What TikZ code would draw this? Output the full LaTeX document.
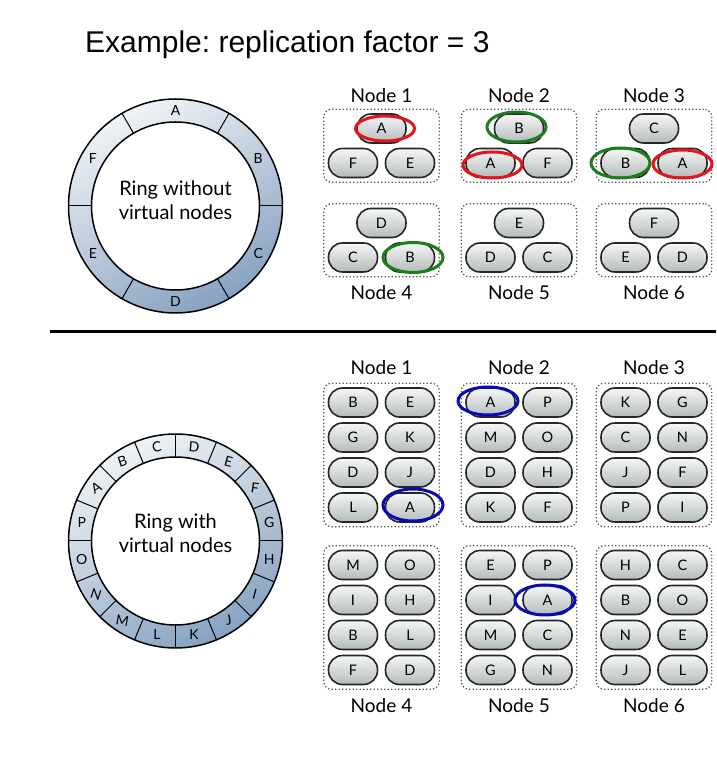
\documentclass[tikz,border=0pt]{standalone}
\usepackage{fontspec}
\setmainfont{Lato}
\newfontfamily\titlefont{Liberation Sans}
\usetikzlibrary{positioning,fit,calc}

\definecolor{ringlight}{HTML}{F0F3F6}
\definecolor{ringdark}{HTML}{86A2C0}
\definecolor{pilltop}{HTML}{F6F7F7}
\definecolor{pillbot}{HTML}{B4BBBB}
\definecolor{boxgray}{HTML}{555555}
\definecolor{hired}{HTML}{E5131B}
\definecolor{higreen}{HTML}{1B7D1B}
\definecolor{hiblue}{HTML}{0A0AB4}

\tikzset{
  pill/.style={draw=black!85, line width=1.6pt, rounded corners=14pt,
    minimum width=49pt, minimum height=29pt, inner sep=0pt,
    top color=pilltop, bottom color=pillbot,
    font=\fontsize{14.5}{14.5}\selectfont},
  group/.style={draw=boxgray, dash pattern=on 1.3pt off 2.2pt, line width=1.3pt,
    rounded corners=8pt, inner sep=4pt},
  caption/.style={font=\fontsize{19}{19}\selectfont},
  ringtext/.style={align=center, font=\fontsize{20}{24}\selectfont},
  ringlabel/.style={font=\fontsize{14}{14}\selectfont, inner sep=0pt},
  hilite/.style={line width=3pt}
}

\begin{document}
\begin{tikzpicture}[x=1pt, y=1pt]
    \useasboundingbox (0,0) rectangle (716,758);

    % Title.
    \node[anchor=base west, inner sep=0pt, font=\titlefont\fontsize{30}{36}\selectfont]
        (title) at (85,705) {\frenchspacing Example: replication factor = 3};

    % Ring without virtual nodes.
    \coordinate (ring1) at (175.5,552);
    \shade[shading=axis, top color=ringlight, bottom color=ringdark, shading angle=28]
        (ring1) circle (107);
    \draw[line width=1.5pt, fill=white] (ring1) circle (84);
    \draw[line width=1.5pt] (ring1) circle (107);
    \foreach \a in {0,60,...,300}
        \draw[line width=1pt] ($(ring1)+(\a:84)$) -- ($(ring1)+(\a:107)$);
    \foreach \a/\t in {90/A,30/B,-30/C,-90/D,210/E,150/F}
        \node[ringlabel] (ra\t) at ($(ring1)+(\a:95.5)$) {\t};
    \node[ringtext] (ringa) at (175.5,558) {Ring without\\virtual nodes};

    % Nodes without virtual nodes.
    \foreach \g/\cx/\cy/\t/\l/\r in {1/381.5/629.5/A/F/E, 2/519/629.5/B/A/F,
            3/654/629.5/C/B/A, 4/381.5/535/D/C/B, 5/519/535/E/D/C, 6/654/535/F/E/D} {
        \node[pill] (p\g t) at (\cx,\cy) {\t};
        \node[pill] (p\g l) at (\cx-28.5,\cy-34.5) {\l};
        \node[pill] (p\g r) at (\cx+28.5,\cy-34.5) {\r};
        \node[group, fit=(p\g t)(p\g l)(p\g r)] (pg\g) {};
    }
    \foreach \g in {1,2,3}
        \node[caption, above=2pt of pg\g] (pc\g) {Node \g};
    \foreach \g in {4,5,6}
        \node[caption, below=5pt of pg\g] (pc\g) {Node \g};

    % Replicas of A and B.
    \draw[hilite, hired] ($(p1t)+(3.5,0)$) ellipse (29.5 and 12.5);
    \draw[hilite, higreen] ($(p2t)+(-2.5,1.5)$) ellipse (29.5 and 15);
    \draw[hilite, hired] ($(p2l)+(2,-2)$) ellipse (29.5 and 13);
    \draw[hilite, higreen] ($(p3l)+(-5,0)$) ellipse (29.5 and 15);
    \draw[hilite, hired] ($(p3r)+(0,-1)$) ellipse (29.5 and 14);
    \draw[hilite, higreen] ($(p4r)+(3,0)$) ellipse (30 and 15);

    % Separator.
    \coordinate (sepl) at (50,426.5);
    \coordinate (sepr) at (716,426.5);
    \draw[line width=2.5pt] (sepl) -- (sepr);

    % Ring with virtual nodes.
    \coordinate (ring2) at (175.5,217);
    \shade[shading=axis, top color=ringlight, bottom color=ringdark, shading angle=28]
        (ring2) circle (107);
    \draw[line width=1.5pt, fill=white] (ring2) circle (84);
    \draw[line width=1.5pt] (ring2) circle (107);
    \foreach \a in {0,22.5,...,337.5}
        \draw[line width=1pt] ($(ring2)+(\a:84)$) -- ($(ring2)+(\a:107)$);
    \foreach \t/\r [count=\k from 0] in {D/-5,E/-15,F/-8,G/0,H/0,I/-15,J/10,K/0,
            L/0,M/-10,N/-18,O/0,P/0,A/30,B/18,C/8} {
        \pgfmathsetmacro\a{78.75-22.5*\k}
        \node[ringlabel, rotate=\r] (rb\t) at ($(ring2)+(\a:95.5)$) {\t};
    }
    \node[ringtext] (ringb) at (175.5,225) {Ring with\\virtual nodes};

    % Nodes with virtual nodes.
    \foreach \g/\cx/\cy/\lst in {1/381.5/355.5/{B,E,G,K,D,J,L,A},
            2/519/355.5/{A,P,M,O,D,H,K,F}, 3/654/355.5/{K,G,C,N,J,F,P,I},
            4/381.5/193/{M,O,I,H,B,L,F,D}, 5/519/193/{E,P,I,A,M,C,G,N},
            6/654/193/{H,C,B,O,N,E,J,L}} {
        \foreach \c [count=\i from 0] in \lst {
            \pgfmathsetmacro\px{\cx+57*mod(\i,2)-28.5}
            \pgfmathsetmacro\py{\cy-35*int(\i/2)}
            \node[pill] (v\g-\i) at (\px,\py) {\c};
        }
        \node[group, fit=(v\g-0)(v\g-7)] (vg\g) {};
    }
    \foreach \g in {1,2,3}
        \node[caption, above=4pt of vg\g] (vc\g) {Node \g};
    \foreach \g in {4,5,6}
        \node[caption, below=5.5pt of vg\g] (vc\g) {Node \g};

    % Replicas of A.
    \draw[hilite, hiblue] ($(v1-7)+(3,2.5)$) ellipse (30 and 16);
    \draw[hilite, hiblue] ($(v2-0)+(-2.5,1.5)$) ellipse (30 and 14);
    \draw[hilite, hiblue] ($(v5-3)+(-2.5,0)$) ellipse (30 and 15);
\end{tikzpicture}
\end{document}
